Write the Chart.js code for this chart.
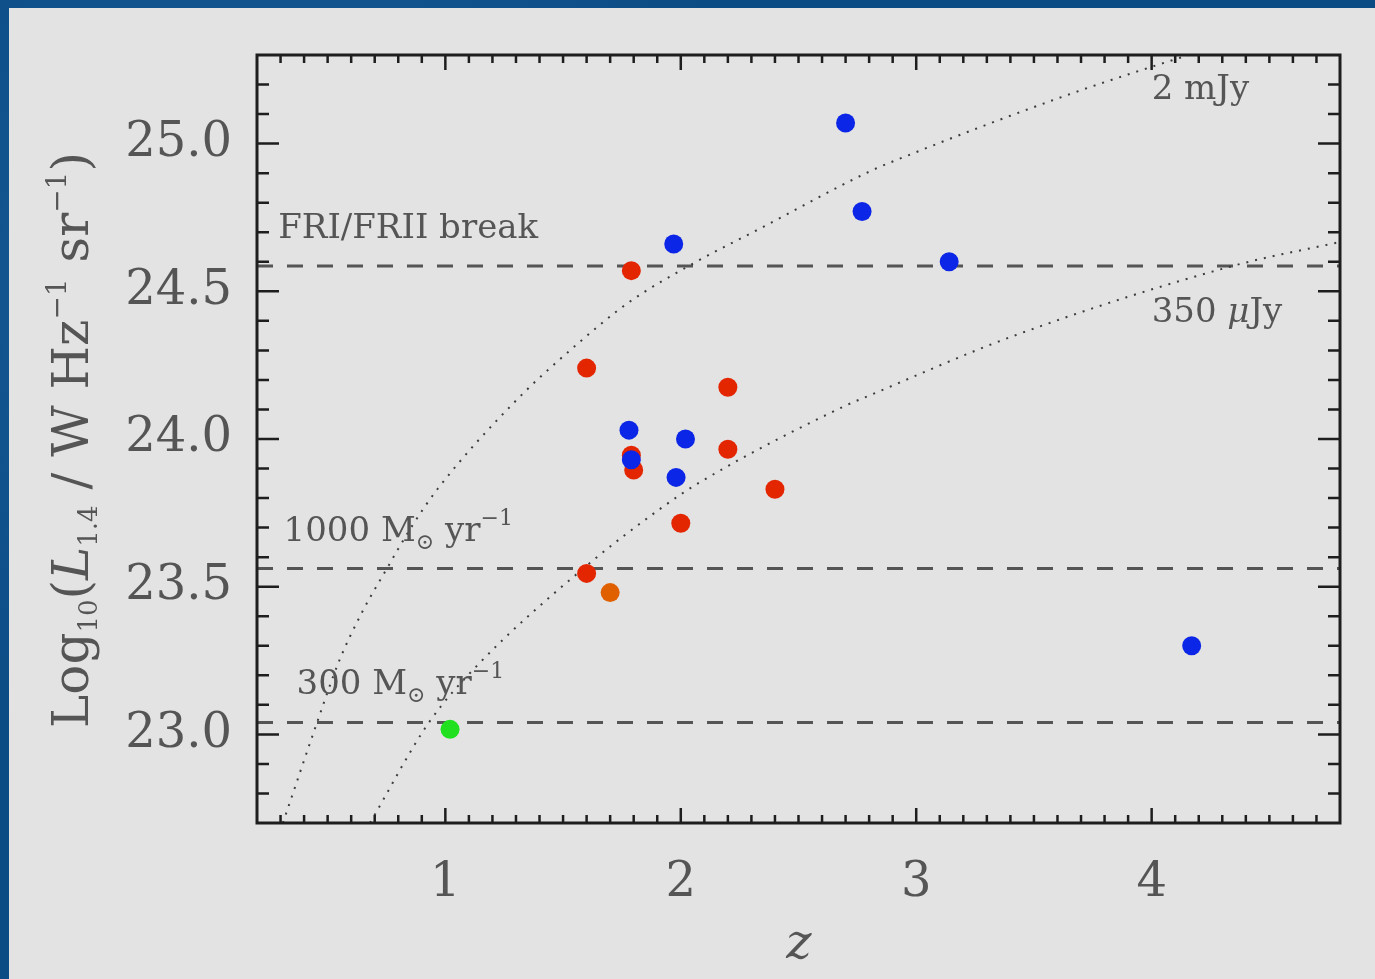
<!DOCTYPE html>
<html>
<head>
<meta charset="utf-8">
<title>Radio luminosity vs redshift</title>
<script src="https://cdn.jsdelivr.net/npm/chart.js@4.4.1/dist/chart.umd.min.js"></script>
<style>
    html, body {
        margin: 0;
        padding: 0;
        width: 1375px;
        height: 979px;
        overflow: hidden;
        background: #0b4c85;
        background-image:
            radial-gradient(circle at 20% 30%, rgba(40, 110, 170, 0.5), rgba(0, 0, 0, 0) 40%),
            radial-gradient(circle at 80% 70%, rgba(0, 40, 90, 0.5), rgba(0, 0, 0, 0) 45%);
    }
    #panel {
        position: absolute;
        left: 9px;
        top: 8px;
        right: 0;
        bottom: 0;
        background: #e3e3e3;
    }
    #chart {
        position: absolute;
        left: 0;
        top: 0;
    }
</style>
</head>
<body>
<div id="panel"></div>
<canvas id="chart" width="1375" height="979"></canvas>
<script>
// axis ranges and tick labels
const xRange = [0.2, 4.8];
const yRange = [22.7, 25.3];
const xTicks = [1, 2, 3, 4];
const yTicks = [23.0, 23.5, 24.0, 24.5, 25.0];

// sources (redshift, log L1.4)
const blueZ = [2.70, 2.77, 1.97, 3.14, 1.78, 2.02, 1.79, 1.98, 4.17];
const blueL = [25.07, 24.77, 24.66, 24.60, 24.03, 24.00, 23.93, 23.87, 23.30];

const redZ = [1.79, 1.60, 2.20, 1.79, 1.80, 2.20, 2.40, 2.00, 1.60];
const redL = [24.57, 24.24, 24.175, 23.945, 23.895, 23.965, 23.83, 23.715, 23.545];

const orangeZ = [1.70];
const orangeL = [23.48];

const greenZ = [1.02];
const greenL = [23.017];

// flux limit curves
const curve2mJyZ = [0.31, 0.455, 0.547, 0.646, 0.752, 0.859, 0.972, 1.30, 1.57, 1.78, 2.05, 2.35, 2.80, 2.93, 3.64, 4.11, 4.20];
const curve2mJyL = [22.70, 23.04, 23.245, 23.413, 23.562, 23.706, 23.836, 24.13, 24.328, 24.463, 24.593, 24.718, 24.905, 24.949, 25.164, 25.288, 25.31];

const curve350Z = [0.68, 0.93, 1.14, 1.60, 1.92, 2.08, 2.70, 2.80, 3.41, 4.35, 4.80];
const curve350L = [22.70, 23.04, 23.237, 23.571, 23.768, 23.853, 24.113, 24.147, 24.348, 24.587, 24.667];

// horizontal reference levels
const levelNames = ["FRI/FRII break", "1000 Msun/yr", "300 Msun/yr"];
const levelValues = [24.586, 23.562, 23.040];

function toPoints(xs, ys) {
    return xs.map((v, i) => ({ x: v, y: ys[i] }));
}

const FONT = "DejaVu Serif";
const TEXT = "#555555";

function dots(label, xs, ys, color, order) {
    return {
        label: label,
        data: toPoints(xs, ys),
        backgroundColor: color,
        borderColor: color,
        borderWidth: 0,
        pointRadius: 9.5,
        pointHoverRadius: 9.5,
        showLine: false,
        order: order
    };
}

function curve(label, xs, ys, order) {
    return {
        label: label,
        data: toPoints(xs, ys),
        showLine: true,
        borderColor: "#3c3c3c",
        borderWidth: 2,
        borderDash: [2, 7],
        pointRadius: 0,
        cubicInterpolationMode: "monotone",
        order: order
    };
}

const levelSets = levelValues.map((v, i) => ({
    label: levelNames[i],
    data: toPoints(xRange, [v, v]),
    showLine: true,
    borderColor: "#555555",
    borderWidth: 3,
    borderDash: [16, 14],
    pointRadius: 0,
    order: 10 + i
}));

// draws text made of pieces (sub/superscripts)
function drawPieces(ctx, pieces, x, y) {
    let cx = x;
    pieces.forEach(p => {
        ctx.font = (p.italic ? "italic " : "") + p.size + "px " + FONT;
        ctx.fillText(p.t, cx, y + (p.dy || 0));
        cx += ctx.measureText(p.t).width;
    });
    return cx - x;
}

function piecesWidth(ctx, pieces) {
    let w = 0;
    pieces.forEach(p => {
        ctx.font = (p.italic ? "italic " : "") + p.size + "px " + FONT;
        w += ctx.measureText(p.t).width;
    });
    return w;
}

const sun = "\u2299";
const minusOne = "\u22121";

const annotations = [
    { z: 0.29, L: 24.68, pieces: [{ t: "FRI/FRII break", size: 34 }] },
    { z: 0.313, L: 23.655, pieces: [
        { t: "1000 M", size: 34 }, { t: sun, size: 22, dy: 8 },
        { t: " yr", size: 34 }, { t: minusOne, size: 22, dy: -16 }] },
    { z: 0.368, L: 23.136, pieces: [
        { t: "300 M", size: 34 }, { t: sun, size: 22, dy: 8 },
        { t: " yr", size: 34 }, { t: minusOne, size: 22, dy: -16 }] },
    { z: 4.0, L: 25.15, pieces: [{ t: "2 mJy", size: 34 }] },
    { z: 4.0, L: 24.397, pieces: [
        { t: "350 ", size: 34 }, { t: "\u03bc", size: 34, italic: true }, { t: "Jy", size: 34 }] }
];

const yTitle = [
    { t: "Log", size: 50 }, { t: "10", size: 26, dy: 9 },
    { t: "(", size: 50 }, { t: "L", size: 50, italic: true }, { t: "1.4", size: 26, dy: 9 },
    { t: " / W Hz", size: 50 }, { t: minusOne, size: 28, dy: -22 },
    { t: " sr", size: 50 }, { t: minusOne, size: 28, dy: -22 },
    { t: ")", size: 50 }
];

const frameAndText = {
    id: "frameAndText",
    afterDraw(chart) {
        const ctx = chart.ctx;
        const a = chart.chartArea;
        const x = chart.scales.x;
        const y = chart.scales.y;

        ctx.save();
        ctx.strokeStyle = "#1e1e1e";
        ctx.lineWidth = 2.5;
        ctx.beginPath();
        // x ticks every 0.1, inward on bottom and top
        for (let i = Math.round(xRange[0] * 10) + 1; i < Math.round(xRange[1] * 10); i++) {
            const px = x.getPixelForValue(i / 10);
            const len = i % 10 === 0 ? 15 : 8;
            ctx.moveTo(px, a.bottom);
            ctx.lineTo(px, a.bottom - len);
            ctx.moveTo(px, a.top);
            ctx.lineTo(px, a.top + len);
        }
        // y ticks every 0.1, long every 0.5
        for (let i = Math.round(yRange[0] * 10) + 1; i < Math.round(yRange[1] * 10); i++) {
            const py = y.getPixelForValue(i / 10);
            const len = i % 5 === 0 ? 22 : 12;
            ctx.moveTo(a.left, py);
            ctx.lineTo(a.left + len, py);
            ctx.moveTo(a.right, py);
            ctx.lineTo(a.right - len, py);
        }
        ctx.stroke();

        ctx.lineWidth = 3;
        ctx.strokeRect(a.left, a.top, a.right - a.left, a.bottom - a.top);

        // annotations
        ctx.fillStyle = TEXT;
        ctx.textBaseline = "alphabetic";
        ctx.textAlign = "left";
        annotations.forEach(n => {
            drawPieces(ctx, n.pieces, x.getPixelForValue(n.z), y.getPixelForValue(n.L));
        });

        // y axis title, rotated
        ctx.save();
        ctx.translate(88, 440);
        ctx.rotate(-Math.PI / 2);
        const w = piecesWidth(ctx, yTitle);
        drawPieces(ctx, yTitle, -w / 2, 0);
        ctx.restore();

        // x axis title
        ctx.font = "italic 48px " + FONT;
        ctx.textAlign = "center";
        ctx.fillText("z", 799, 958);
        ctx.restore();
    }
};

Chart.defaults.font.family = FONT;

new Chart(document.getElementById("chart"), {
    type: "scatter",
    data: {
        datasets: [
            dots("blue", blueZ, blueL, "#0b26e6", 1),
            dots("red", redZ, redL, "#e32600", 2),
            dots("orange", orangeZ, orangeL, "#e06000", 3),
            dots("green", greenZ, greenL, "#20e020", 4),
            curve("2 mJy", curve2mJyZ, curve2mJyL, 5),
            curve("350 uJy", curve350Z, curve350L, 6),
            ...levelSets
        ]
    },
    options: {
        responsive: false,
        animation: false,
        events: [],
        layout: { padding: { top: 55, right: 35, left: 0, bottom: 0 } },
        plugins: {
            legend: { display: false },
            tooltip: { enabled: false },
            title: { display: false }
        },
        scales: {
            x: {
                type: "linear",
                min: xRange[0],
                max: xRange[1],
                grid: { display: false },
                border: { display: false },
                afterBuildTicks: scale => { scale.ticks = xTicks.map(v => ({ value: v })); },
                afterFit: scale => { scale.height = 156; },
                ticks: {
                    color: TEXT,
                    font: { size: 48 },
                    padding: 24,
                    maxRotation: 0,
                    autoSkip: false,
                    callback: v => String(v)
                }
            },
            y: {
                type: "linear",
                min: yRange[0],
                max: yRange[1],
                grid: { display: false },
                border: { display: false },
                afterBuildTicks: scale => { scale.ticks = yTicks.map(v => ({ value: v })); },
                afterFit: scale => { scale.width = 257; },
                ticks: {
                    color: TEXT,
                    font: { size: 48 },
                    padding: 17,
                    autoSkip: false,
                    callback: v => Number(v).toFixed(1)
                }
            }
        }
    },
    plugins: [frameAndText]
});
</script>
</body>
</html>
